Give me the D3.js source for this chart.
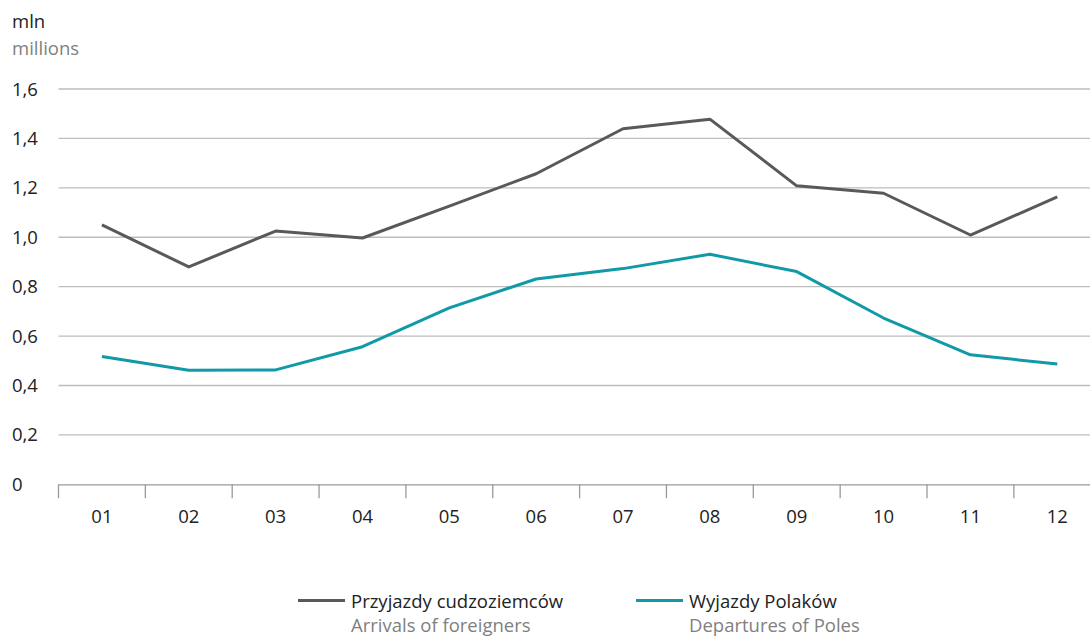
<!DOCTYPE html>
<html><head><meta charset="utf-8">
<script src="https://cdn.jsdelivr.net/npm/d3@7"></script>
<style>body{margin:0;background:#fff}svg{display:block}text{font-family:"Open Sans",sans-serif}</style>
</head><body>
<script>
const months = ["01","02","03","04","05","06","07","08","09","10","11","12"];
const arrivals = [1.05,0.88,1.025,0.997,1.126,1.257,1.439,1.478,1.208,1.178,1.009,1.163];
const departures = [0.517,0.462,0.463,0.557,0.714,0.831,0.873,0.931,0.861,0.673,0.524,0.487];
const yTicks = [0,0.2,0.4,0.6,0.8,1.0,1.2,1.4,1.6];
const seriesNames = [["Przyjazdy cudzoziemców","Arrivals of foreigners"],["Wyjazdy Polaków","Departures of Poles"]];
const colors = ["#58595b","#1199a8"];

const W=1090,H=636,FS=18.5;
const svg=d3.select("body").append("svg").attr("width",W).attr("height",H);
const x=d3.scaleBand().domain(months).range([58.5,1100.7]);
const y=d3.scaleLinear().domain([0,1.6]).range([484.3,89]);
const fmt=d=>d===0?"0":d3.format(".1f")(d).replace(".",",");

svg.append("text").attr("x",12).attr("y",28).attr("font-size",FS).attr("fill","#222").text("mln");
svg.append("text").attr("x",12).attr("y",55).attr("font-size",FS).attr("fill","#808080").text("millions");

svg.append("g").selectAll("line").data(yTicks.filter(d=>d>0)).join("line")
 .attr("x1",58.5).attr("x2",W).attr("y1",d=>y(d)).attr("y2",d=>y(d))
 .attr("stroke","#bdbdbd").attr("stroke-width",1.3);
svg.append("g").selectAll("text").data(yTicks).join("text")
 .attr("x",12).attr("y",d=>y(d)+6.5).attr("font-size",FS).attr("fill","#222").text(fmt);

const xa=svg.append("g").attr("transform",`translate(0,${y(0)})`)
 .call(d3.axisBottom(x).tickSize(0).tickPadding(0).tickSizeOuter(0));
xa.select(".domain").attr("stroke","#9a9a9a").attr("stroke-width",1.3);
xa.selectAll("text").attr("font-size",FS).attr("fill","#222").attr("font-family","Open Sans")
 .attr("y",523-484.3).attr("dy",0);
svg.append("g").selectAll("line").data(months).join("line")
 .attr("x1",d=>x(d)).attr("x2",d=>x(d)).attr("y1",y(0)).attr("y2",y(0)+14)
 .attr("stroke","#9a9a9a").attr("stroke-width",1.3);

const line=d3.line().x((d,i)=>x(months[i])+x.bandwidth()/2).y(d=>y(d));
[arrivals,departures].forEach((s,k)=>{
 svg.append("path").datum(s).attr("d",line).attr("fill","none")
  .attr("stroke",colors[k]).attr("stroke-width",3).attr("stroke-linejoin","round");
});

const lg=[{x:298},{x:636}];
lg.forEach((p,k)=>{
 svg.append("line").attr("x1",p.x).attr("x2",p.x+47).attr("y1",600.5).attr("y2",600.5).attr("stroke",colors[k]).attr("stroke-width",3);
 svg.append("text").attr("x",p.x+53).attr("y",608).attr("font-size",FS).attr("fill","#222").text(seriesNames[k][0]);
 svg.append("text").attr("x",p.x+53).attr("y",632).attr("font-size",FS).attr("fill","#808080").text(seriesNames[k][1]);
});
</script>
</body></html>
